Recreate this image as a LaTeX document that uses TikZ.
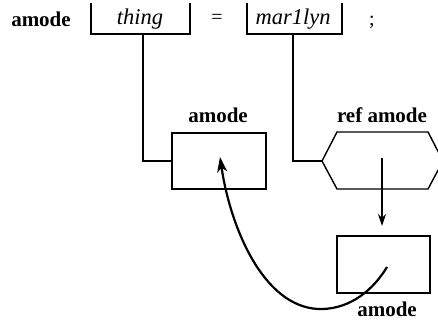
\documentclass[tikz,border=0pt]{standalone}
\usepackage{fontspec}
\setmainfont{Liberation Serif}
\usetikzlibrary{arrows.meta}
\begin{document}
\begin{tikzpicture}[x=1pt,y=-1pt,
  thin line/.style={line width=1.4pt},
  thick arrow/.style={line width=2.2pt,-{Stealth[length=15pt,width=10pt,inset=4pt]}},
  small arrow/.style={line width=2.2pt,-{Stealth[length=12pt,width=8pt,inset=4pt]}},
  boldlbl/.style={font=\fontsize{21}{24}\selectfont\bfseries,anchor=base,inner sep=0pt},
  itlbl/.style={font=\fontsize{22.5}{26}\selectfont\itshape,anchor=base,inner sep=0pt},
  plainlbl/.style={font=\fontsize{20}{24}\selectfont,anchor=base,inner sep=0pt},
  boxnode/.style={draw,line width=1.4pt,inner sep=0pt}
]
\useasboundingbox (0,0) rectangle (438,321);
\clip (0,0) rectangle (438,321);
% top row
\node[boldlbl] (top) at (41,27) {amode};
\node[itlbl] (thing) at (140,25) {thing};
\node[plainlbl] (eq) at (217,24) {=};
\node[itlbl] (mar) at (293,25) {mar1lyn};
\node[plainlbl] (semi) at (372,26) {;};
% brackets
\coordinate (t1) at (91,3);
\coordinate (t2) at (91,34);
\coordinate (t3) at (190,34);
\coordinate (t4) at (190,3);
\draw[thin line] (t1) -- (t2) -- (t3) -- (t4);
\coordinate (m1) at (247,3);
\coordinate (m2) at (247,34);
\coordinate (m3) at (342,34);
\coordinate (m4) at (342,3);
\draw[thin line] (m1) -- (m2) -- (m3) -- (m4);
% left box
\node[boxnode,minimum width=94pt,minimum height=56pt] (box1) at (219,161) {};
\node[boldlbl] (lbl1) at (218,122) {amode};
\coordinate (tdrop) at (143,34);
\draw[thin line] (tdrop) |- (box1.west);
% hexagon
\coordinate (hl) at (322,161);
\coordinate (htl) at (337,132);
\coordinate (htr) at (428,132);
\coordinate (hr) at (443,161);
\coordinate (hbr) at (428,189);
\coordinate (hbl) at (337,189);
\draw[thin line] (hl) -- (htl) -- (htr) -- (hr) -- (hbr) -- (hbl) -- cycle;
\node[boldlbl] (lbl2) at (382,122) {ref amode};
\coordinate (mdrop) at (293,34);
\draw[thin line] (mdrop) |- (hl);
% bottom box
\node[boxnode,minimum width=93pt,minimum height=57pt] (box2) at (383.5,264.5) {};
\node[boldlbl] (lbl3) at (387,316) {amode};
% arrows
\coordinate (hc) at (382,158);
\coordinate (harr) at (382,226);
\draw[small arrow] (hc) -- (harr);
\coordinate (b2c) at (387,267);
\coordinate (b1c) at (220,157);
\draw[thick arrow] (b2c) .. controls (370,295) and (345,310) .. (318,309)
  .. controls (262,306) and (230,225) .. (b1c);
\end{tikzpicture}
\end{document}
